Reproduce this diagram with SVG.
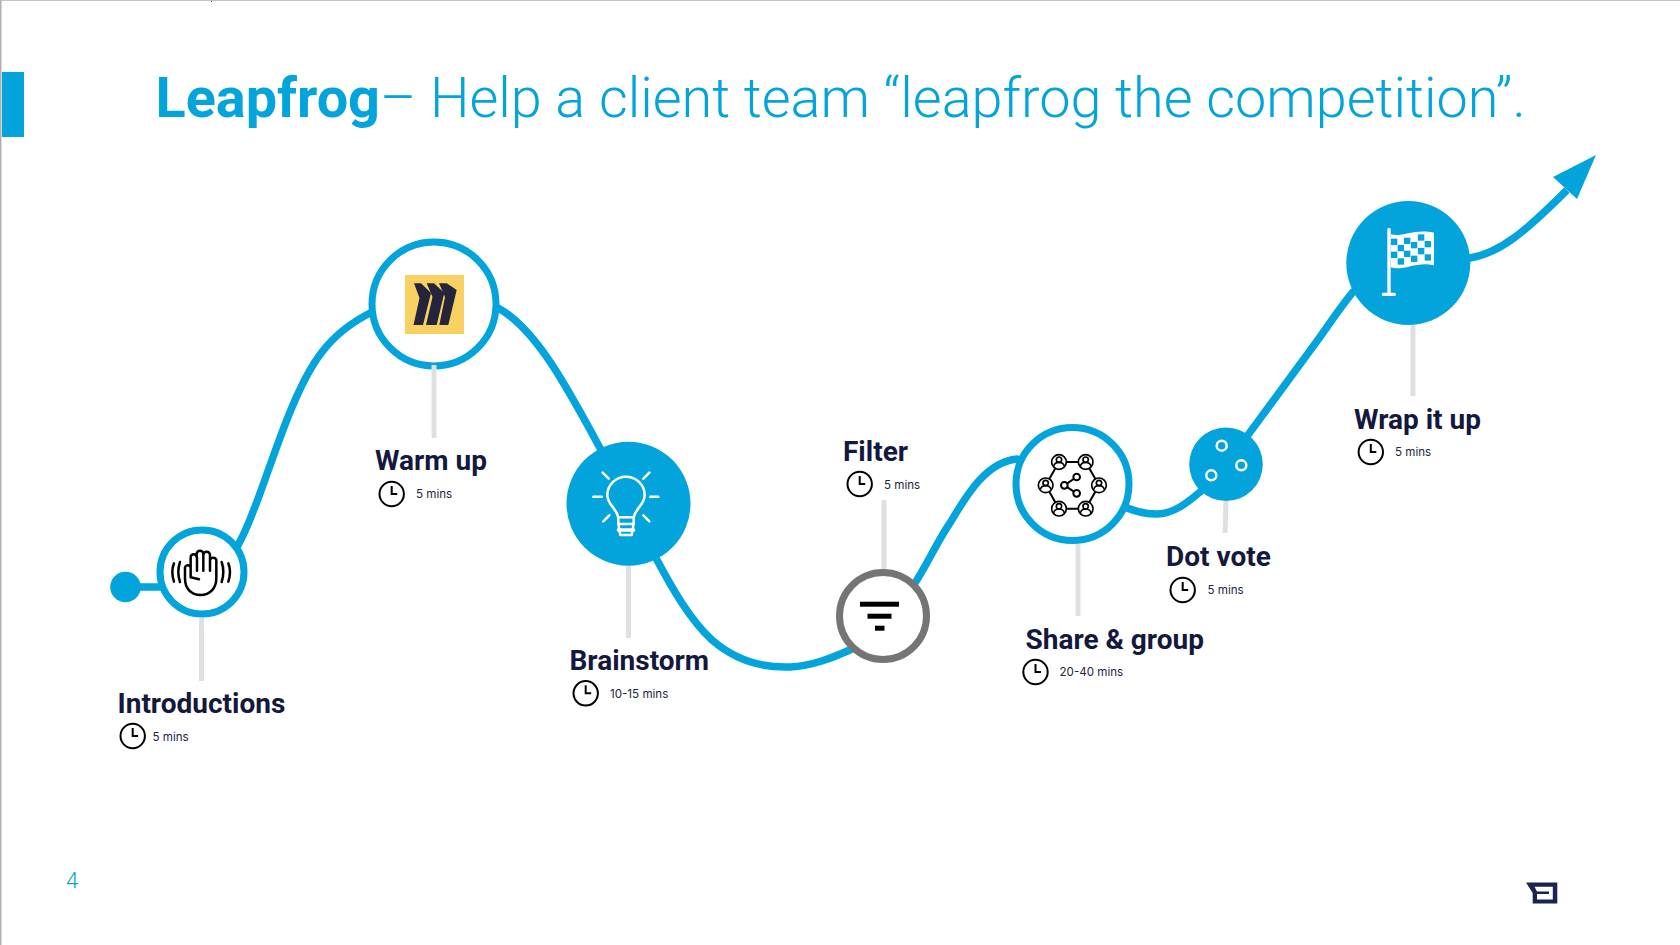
<svg xmlns="http://www.w3.org/2000/svg" xmlns:xlink="http://www.w3.org/1999/xlink" width="1680" height="945" viewBox="0 0 1680 945">
<style>
.ring{fill:#fff;stroke:#03a4dc;stroke-width:7}
.disc{fill:#03a4dc}
.stem{fill:none;stroke:#e0e0e0;stroke-width:5}
.name{font-family:Roboto,sans-serif;font-weight:700;font-size:28px;fill:#14183e}
.time{font-family:Inter,sans-serif;font-size:11.6px;fill:#23253f}
.ink{fill:none;stroke:#000;stroke-linecap:round;stroke-linejoin:round}
.wh{fill:none;stroke:#fff;stroke-linecap:round;stroke-linejoin:round}
</style>
<defs>
<g id="clock"><circle r="12.2" fill="#fff" stroke="#000" stroke-width="2"/><path d="M0 -8V0H5.5" fill="none" stroke="#000" stroke-width="2"/></g>
<g id="person"><circle r="22" fill="#fff" stroke="#000" stroke-width="5"/><circle cy="-7" r="8" fill="#fff" stroke="#000" stroke-width="5"/><path d="M-16 13C-14 3 -7 1 0 1S14 3 16 13" fill="none" stroke="#000" stroke-width="5"/></g>
</defs>
<rect width="1680" height="945" fill="#fff"/>
<rect width="1680" height="1" fill="#c4c4c4"/>
<rect width="1.5" height="945" fill="#b0b0b0"/>
<rect x="211" y="1" width="1" height="1" fill="#333"/>
<rect x="2" y="72" width="22" height="65" fill="#03a4dc"/>
<text x="155.500" y="116.7" font-family="Roboto,sans-serif" font-size="55.8" fill="#03a4dc"><tspan font-weight="700">Leapfrog</tspan><tspan font-weight="300">– Help a client team “leapfrog the competition”.</tspan></text>

<g id="connectors">
<path d="M125 587L165 587L238 545C250 525 262 487 272 460C282 432 300 380 322 352C335 335 352 322 372 312L498 308C535 328 566 385 600 448L657 560C672 588 690 620 712 640C735 660 762 668 790 667C812 666 832 658 852 649L915 583C927 565 938 540 950 523C965 498 985 462 1017 459L1127 508C1137 512 1147 514 1157 514C1173 514 1187 503 1200 492L1248 435L1320 337C1332 320 1342 305 1353 292L1470 258C1500 253 1525 232 1567 190" fill="none" stroke="#03a4dc" stroke-width="7.500"/>
<polygon points="1596,155 1553,177 1577,199" fill="#03a4dc"/>
</g>

<g id="start"><circle cx="125.5" cy="587" r="15.3" class="disc"/></g>

<g id="introductions">
<circle cx="202" cy="572" r="42" class="ring"/>
<g transform="translate(100 500) scale(.3333)" class="ink" stroke-width="7.500">
<path d="M272 232V172a9 9 0 0 1 18 0V162a10 10 0 0 1 20 0V165a10 10 0 0 1 20 0V180a10 10 0 0 1 19 0V235C349 265 330 285 302 285C272 285 255 265 255 235V207a8 8 0 0 1 17 -5M272 232L297 238M291 172V212M310 165V212M330 178V212"/>
<path d="M222 190Q212 215 222 245M240 186Q230 215 240 246M365 186Q375 215 365 246M385 190Q395 215 385 245"/>
</g>
<text class="name" x="117.500" y="712.7">Introductions</text>
<use xlink:href="#clock" x="132.7" y="736"/>
<text class="time" x="152.500" y="741">5 mins</text>
</g>

<g id="warm-up">
<circle cx="434" cy="304" r="62" class="ring"/>
<rect x="405" y="275" width="59" height="59" fill="#f9d162"/>
<g fill="#24243a">
<polygon points="414,283.300 421,283.300 431,293 423,325 413.500,325 419.500,298"/>
<polygon points="426.700,283.300 434,283.300 444.300,293 436.700,325 426,325 432.500,297"/>
<polygon points="439,283.300 446.700,283.300 456.700,290 448.300,325 439.300,325 445,297"/>
</g>
<text class="name" x="375" y="470">Warm up</text>
<use xlink:href="#clock" x="391.7" y="494"/>
<text class="time" x="416" y="498">5 mins</text>
</g>

<g id="brainstorm">
<circle cx="628.5" cy="503.7" r="62" class="disc"/>
<g transform="translate(550 420) scale(.3333)" class="wh" stroke-width="7.500">
<path d="M205 292C197 260 172 255 172 225A56 55 0 0 1 284 225C284 255 259 260 251 292ZM205 292V312H251V292M205 312L211 345H245L251 312"/>
<path d="M205 330H251" stroke-width="10"/>
<path d="M158 158L176 176M298 158L280 176M130 230H155M301 230H325M160 304L178 286M298 304L280 286"/>
</g>
<text class="name" x="569.500" y="670">Brainstorm</text>
<use xlink:href="#clock" x="585.7" y="693.3"/>
<text class="time" x="610" y="698">10-15 mins</text>
</g>

<g id="filter">
<circle cx="883" cy="616" r="43.5" fill="#fff" stroke="#757575" stroke-width="7"/>
<rect x="860" y="601.7" width="39" height="5" fill="#000"/>
<rect x="867.5" y="613.7" width="24" height="5" fill="#000"/>
<rect x="875" y="625.7" width="9.5" height="5" fill="#000"/>
<text class="name" x="843" y="460.7">Filter</text>
<use xlink:href="#clock" x="859.7" y="484"/>
<text class="time" x="884" y="489">5 mins</text>
</g>

<g id="share-group">
<circle cx="1072.5" cy="484" r="56.5" class="ring"/>
<g transform="translate(1000 410) scale(.3333)">
<path d="M177 156H257L297 226L257 296H177L137 226Z" fill="none" stroke="#000" stroke-width="6"/>
<use xlink:href="#person" x="177" y="156"/><use xlink:href="#person" x="257" y="156"/><use xlink:href="#person" x="297" y="226"/><use xlink:href="#person" x="257" y="296"/><use xlink:href="#person" x="177" y="296"/><use xlink:href="#person" x="137" y="226"/>
<path d="M193 226L230 201M193 226L230 250" stroke="#000" stroke-width="6"/>
<circle cx="193" cy="226" r="10" fill="#fff" stroke="#000" stroke-width="6"/>
<circle cx="230" cy="201" r="10" fill="#fff" stroke="#000" stroke-width="6"/>
<circle cx="230" cy="250" r="10" fill="#fff" stroke="#000" stroke-width="6"/>
</g>
<text class="name" x="1025.5" y="649">Share &amp; group</text>
<use xlink:href="#clock" x="1035.5" y="672"/>
<text class="time" x="1059.5" y="676">20-40 mins</text>
</g>

<g id="dot-vote">
<circle cx="1226" cy="464.3" r="36.8" class="disc"/>
<circle cx="1221.7" cy="445.7" r="5" fill="none" stroke="#fff" stroke-width="2.500"/>
<circle cx="1241.3" cy="465.3" r="5" fill="none" stroke="#fff" stroke-width="2.500"/>
<circle cx="1211.3" cy="475.3" r="5" fill="none" stroke="#fff" stroke-width="2.500"/>
<text class="name" x="1166" y="566">Dot vote</text>
<use xlink:href="#clock" x="1182.7" y="590"/>
<text class="time" x="1207.5" y="594">5 mins</text>
</g>

<g id="wrap-it-up">
<circle cx="1408.3" cy="263" r="62" class="disc"/>
<g transform="translate(1320 140) scale(.3333)">
<path d="M207 268V463M190 463H223" stroke="#fff" stroke-width="10" stroke-linecap="round" fill="none"/>
<path d="M212 282C240 295 280 265 342 278V376C290 362 250 395 212 382Z" fill="#fff"/>
<g fill="#03a4dc"><rect x="213" y="296" width="19" height="19"/><rect x="252" y="293" width="19" height="19"/><rect x="294" y="283" width="19" height="19"/><rect x="233" y="315" width="19" height="19"/><rect x="273" y="306" width="19" height="19"/><rect x="314" y="303" width="19" height="19"/><rect x="213" y="335" width="19" height="19"/><rect x="252" y="332" width="19" height="19"/><rect x="294" y="324" width="19" height="19"/><rect x="233" y="355" width="19" height="19"/><rect x="273" y="347" width="19" height="19"/><rect x="314" y="343" width="19" height="19"/></g>
</g>
<text class="name" x="1354" y="429">Wrap it up</text>
<use xlink:href="#clock" x="1370.8" y="452"/>
<text class="time" x="1395" y="456">5 mins</text>
</g>

<g id="stems">
<path class="stem" d="M201.500 618V681"/>
<path class="stem" d="M434 365V438" stroke-width="4"/>
<path class="stem" d="M628.500 566V638"/>
<path class="stem" d="M884 500V569"/>
<path class="stem" d="M1078 544V616"/>
<path class="stem" d="M1226 501L1225 533"/>
<path class="stem" d="M1413 325V396"/>
</g>

<text x="66" y="888" font-family="Roboto,sans-serif" font-weight="300" font-size="22" fill="#03a4dc">4</text>
<path id="logo" fill-rule="evenodd" fill="#1b2350" d="M1526 882.500H1557.300V903.500H1532.700V893ZM1534.500 886.700L1537 891.500V899.500H1552.800V886.700ZM1537 891.500H1549V894H1537Z"/>
</svg>
